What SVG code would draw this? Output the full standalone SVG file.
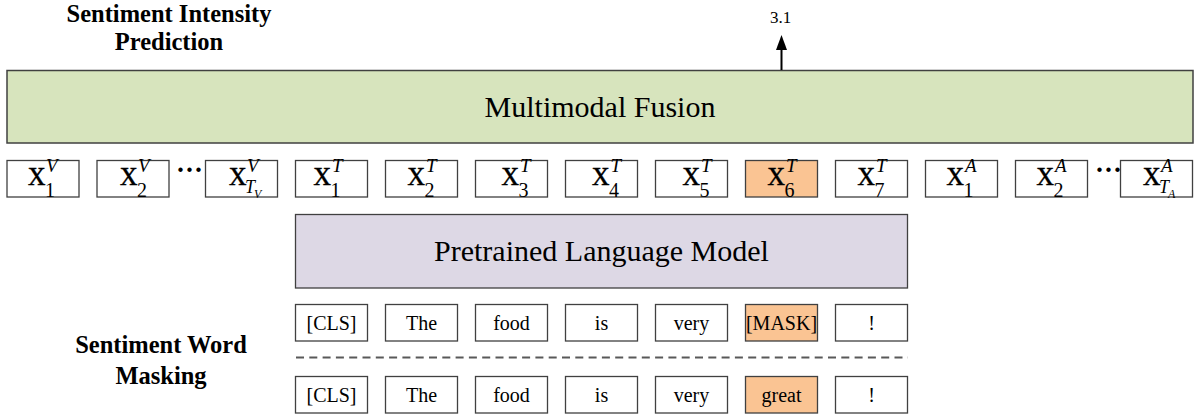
<svg xmlns="http://www.w3.org/2000/svg" width="1198" height="419" viewBox="0 0 1198 419">
<style>
  .box{fill:#ffffff;stroke:#404040;stroke-width:1.3}
  .hl{fill:#fac493;stroke:#404040;stroke-width:1.3}
  .big{font-family:"Liberation Serif",serif;font-size:30px;fill:#000;text-anchor:middle}
  .title{font-family:"Liberation Serif",serif;font-size:24.5px;font-weight:bold;fill:#000;text-anchor:middle}
  .w{font-family:"Liberation Serif",serif;font-size:20px;fill:#000;text-anchor:middle}
  .x{font-family:"Liberation Serif",serif;font-size:35px;fill:#000;stroke:#000;stroke-width:0.3}
  .sub{font-family:"Liberation Serif",serif;font-size:20px;fill:#000}
  .sup{font-family:"Liberation Serif",serif;font-size:19px;font-style:italic;fill:#000}
  .subi{font-family:"Liberation Serif",serif;font-size:18px;font-style:italic;fill:#000}
  .ss{font-family:"Liberation Serif",serif;font-size:12px;font-style:italic;fill:#000}
  .dots{font-family:"Liberation Serif",serif;font-size:27px;font-weight:bold;fill:#000}
</style>

<g id="label-sip">
  <text class="title" x="169" y="22">Sentiment Intensity</text>
  <text class="title" x="169" y="50">Prediction</text>
</g>
<g id="label-swm">
  <text class="title" x="161" y="353">Sentiment Word</text>
  <text class="title" x="161" y="384">Masking</text>
</g>

<g id="fusion">
  <rect x="7" y="70.5" width="1186" height="72.5" fill="#d7e4bd" stroke="#404040" stroke-width="1.5"/>
  <text class="big" x="600" y="116.5">Multimodal Fusion</text>
</g>

<g id="plm">
  <rect x="295.5" y="214.5" width="612" height="73.5" fill="#ddd8e5" stroke="#404040" stroke-width="1.3"/>
  <text class="big" x="601.5" y="261">Pretrained Language Model</text>
</g>

<g id="connectors">
  <line x1="781.5" y1="70" x2="781.5" y2="49" stroke="#000" stroke-width="2"/>
  <path d="M776,50 L781.5,35 L787,50 Z" fill="#000"/>
  <line x1="296" y1="357.5" x2="908" y2="357.5" stroke="#595959" stroke-width="2" stroke-dasharray="8 5.3"/>
</g>
<g id="output">
  <text x="780.5" y="23" font-family="Liberation Serif, serif" font-size="17" text-anchor="middle">3.1</text>
</g>

<!-- visual tokens -->
<g id="xv1"><rect class="box" x="7" y="160.5" width="72" height="36.5"/>
  <text class="x" x="28" y="185">x</text><text class="sub" x="45" y="197">1</text><text class="sup" x="46" y="171.5">V</text></g>
<g id="xv2"><rect class="box" x="97" y="160.5" width="72" height="36.5"/>
  <text class="x" x="120" y="185">x</text><text class="sub" x="137" y="197">2</text><text class="sup" x="138" y="171.5">V</text></g>
<g id="dots-v"><text class="dots" x="176" y="179">···</text></g>
<g id="xvt"><rect class="box" x="205.5" y="160.5" width="72" height="36.5"/>
  <text class="x" x="229" y="185">x</text><text class="subi" x="245" y="193">T</text><text class="ss" x="254" y="198">V</text><text class="sup" x="247" y="171.5">V</text></g>

<!-- text tokens -->
<g id="xt1"><rect class="box" x="295.5" y="160.5" width="72" height="36.5"/>
  <text class="x" x="313.5" y="185">x</text><text class="sub" x="330.5" y="197">1</text><text class="sup" x="332" y="171.5">T</text></g>
<g id="xt2"><rect class="box" x="385.5" y="160.5" width="72" height="36.5"/>
  <text class="x" x="407.5" y="185">x</text><text class="sub" x="424.5" y="197">2</text><text class="sup" x="426" y="171.5">T</text></g>
<g id="xt3"><rect class="box" x="475.5" y="160.5" width="72" height="36.5"/>
  <text class="x" x="501.5" y="185">x</text><text class="sub" x="518.5" y="197">3</text><text class="sup" x="520" y="171.5">T</text></g>
<g id="xt4"><rect class="box" x="565.5" y="160.5" width="72" height="36.5"/>
  <text class="x" x="592" y="185">x</text><text class="sub" x="609" y="197">4</text><text class="sup" x="610.5" y="171.5">T</text></g>
<g id="xt5"><rect class="box" x="655.5" y="160.5" width="72" height="36.5"/>
  <text class="x" x="682.5" y="185">x</text><text class="sub" x="699.5" y="197">5</text><text class="sup" x="701" y="171.5">T</text></g>
<g id="xt6"><rect class="hl" x="745.5" y="160.5" width="72" height="36.5"/>
  <text class="x" x="767.5" y="185">x</text><text class="sub" x="784.5" y="197">6</text><text class="sup" x="786" y="171.5">T</text></g>
<g id="xt7"><rect class="box" x="835.5" y="160.5" width="72" height="36.5"/>
  <text class="x" x="857.5" y="185">x</text><text class="sub" x="874.5" y="197">7</text><text class="sup" x="876" y="171.5">T</text></g>

<!-- audio tokens -->
<g id="xa1"><rect class="box" x="925.5" y="160.5" width="72" height="36.5"/>
  <text class="x" x="946.5" y="185">x</text><text class="sub" x="963.5" y="197">1</text><text class="sup" x="965" y="171.5">A</text></g>
<g id="xa2"><rect class="box" x="1015.5" y="160.5" width="72" height="36.5"/>
  <text class="x" x="1036.5" y="185">x</text><text class="sub" x="1053.5" y="197">2</text><text class="sup" x="1055" y="171.5">A</text></g>
<g id="dots-a"><text class="dots" x="1095" y="179">···</text></g>
<g id="xat"><rect class="box" x="1120.5" y="160.5" width="72" height="36.5"/>
  <text class="x" x="1143" y="185">x</text><text class="subi" x="1159" y="193">T</text><text class="ss" x="1168" y="198">A</text><text class="sup" x="1161" y="171.5">A</text></g>

<!-- masked sentence -->
<g id="m0"><rect class="box" x="295.5" y="304.5" width="72" height="36.5"/><text class="w" x="331.5" y="329.5">[CLS]</text></g>
<g id="m1"><rect class="box" x="385.5" y="304.5" width="72" height="36.5"/><text class="w" x="421.5" y="329.5">The</text></g>
<g id="m2"><rect class="box" x="475.5" y="304.5" width="72" height="36.5"/><text class="w" x="511.5" y="329.5">food</text></g>
<g id="m3"><rect class="box" x="565.5" y="304.5" width="72" height="36.5"/><text class="w" x="601.5" y="329.5">is</text></g>
<g id="m4"><rect class="box" x="655.5" y="304.5" width="72" height="36.5"/><text class="w" x="691.5" y="329.5">very</text></g>
<g id="m5"><rect class="hl" x="745.5" y="304.5" width="72" height="36.5"/><text class="w" x="781.5" y="329.5">[MASK]</text></g>
<g id="m6"><rect class="box" x="835.5" y="304.5" width="72" height="36.5"/><text class="w" x="871.5" y="329.5">!</text></g>

<!-- original sentence -->
<g id="o0"><rect class="box" x="295.5" y="376.5" width="72" height="36.5"/><text class="w" x="331.5" y="401.5">[CLS]</text></g>
<g id="o1"><rect class="box" x="385.5" y="376.5" width="72" height="36.5"/><text class="w" x="421.5" y="401.5">The</text></g>
<g id="o2"><rect class="box" x="475.5" y="376.5" width="72" height="36.5"/><text class="w" x="511.5" y="401.5">food</text></g>
<g id="o3"><rect class="box" x="565.5" y="376.5" width="72" height="36.5"/><text class="w" x="601.5" y="401.5">is</text></g>
<g id="o4"><rect class="box" x="655.5" y="376.5" width="72" height="36.5"/><text class="w" x="691.5" y="401.5">very</text></g>
<g id="o5"><rect class="hl" x="745.5" y="376.5" width="72" height="36.5"/><text class="w" x="781.5" y="401.5">great</text></g>
<g id="o6"><rect class="box" x="835.5" y="376.5" width="72" height="36.5"/><text class="w" x="871.5" y="401.5">!</text></g>
</svg>
